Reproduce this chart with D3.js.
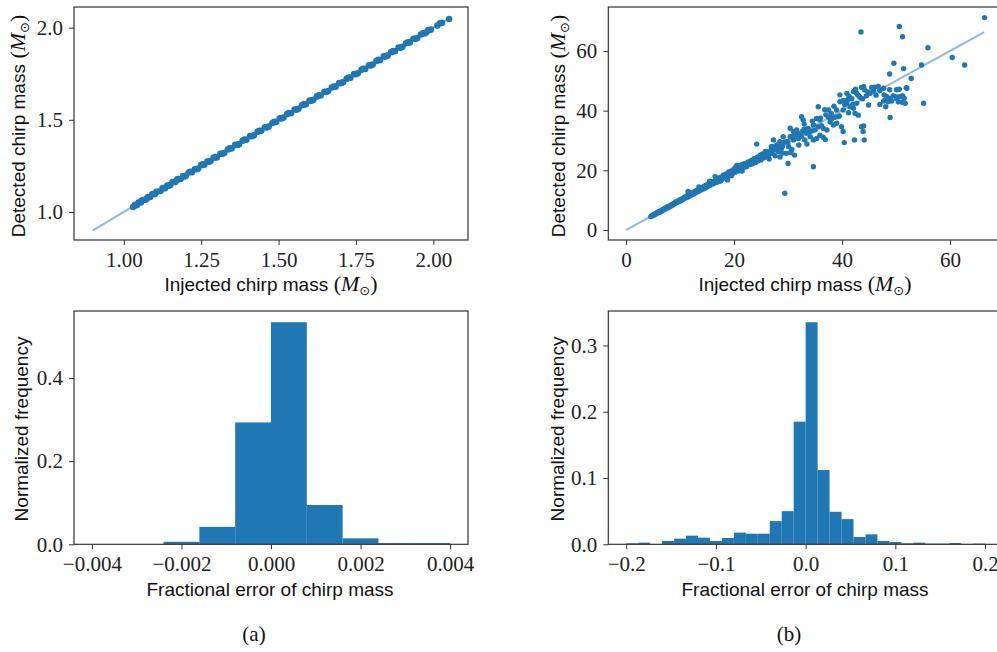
<!DOCTYPE html>
<html>
<head>
<meta charset="utf-8">
<script src="https://cdn.jsdelivr.net/npm/d3@7"></script>
<style>
  body { margin: 0; background: #fff; }
</style>
</head>
<body>
<div id="chart"></div>
<script>
// ---- data ----
// (a) top: injected vs detected chirp mass, binary neutron stars
var bnsPoints = [
  [1.030,1.027],[1.036,1.039],[1.042,1.038],[1.048,1.051],[1.055,1.052],[1.062,1.065],[1.070,1.066],[1.078,1.081],
  [1.085,1.081],[1.092,1.096],[1.100,1.096],[1.106,1.109],[1.118,1.114],[1.125,1.128],[1.133,1.129],[1.141,1.144],
  [1.150,1.146],[1.158,1.162],[1.166,1.162],[1.175,1.178],[1.183,1.179],[1.192,1.195],[1.200,1.196],[1.210,1.214],
  [1.220,1.216],[1.230,1.233],[1.240,1.236],[1.250,1.254],[1.260,1.256],[1.270,1.273],[1.280,1.276],[1.290,1.294],
  [1.300,1.296],[1.312,1.315],[1.324,1.320],[1.336,1.339],[1.348,1.344],[1.360,1.364],[1.372,1.368],[1.384,1.387],
  [1.396,1.392],[1.408,1.412],[1.420,1.416],[1.432,1.435],[1.444,1.440],[1.456,1.460],[1.468,1.464],[1.480,1.483],
  [1.492,1.488],[1.504,1.508],[1.516,1.512],[1.528,1.531],[1.540,1.536],[1.552,1.556],[1.564,1.560],[1.576,1.579],
  [1.588,1.584],[1.600,1.604],[1.612,1.608],[1.624,1.627],[1.636,1.632],[1.648,1.652],[1.660,1.656],[1.672,1.675],
  [1.684,1.680],[1.696,1.700],[1.708,1.704],[1.720,1.723],[1.732,1.728],[1.744,1.748],[1.756,1.752],[1.768,1.771],
  [1.780,1.776],[1.792,1.796],[1.804,1.800],[1.816,1.819],[1.828,1.824],[1.840,1.844],[1.852,1.848],[1.864,1.867],
  [1.876,1.872],[1.888,1.892],[1.900,1.896],[1.912,1.915],[1.924,1.920],[1.936,1.940],[1.948,1.944],[1.960,1.963],
  [1.972,1.968],[1.984,1.987],[1.992,1.989],[2.013,2.011],[2.022,2.024],[2.028,2.026],[2.051,2.047],
  [1.039,1.036],[1.058,1.060],[1.074,1.072],[1.096,1.099],[1.129,1.131],[1.146,1.143],[1.171,1.173],[1.196,1.193],
  [1.215,1.218],[1.235,1.232],[1.255,1.258],[1.275,1.272],[1.295,1.298],[1.318,1.316],[1.342,1.345],[1.366,1.363],
  [1.390,1.393],[1.414,1.411],[1.438,1.441],[1.462,1.459],[1.486,1.489],[1.510,1.507],[1.534,1.537],[1.558,1.555],
  [1.582,1.585],[1.606,1.603],[1.630,1.633],[1.654,1.651],[1.678,1.681],[1.702,1.699],[1.726,1.729],[1.750,1.747],
  [1.774,1.777],[1.798,1.795],[1.822,1.825],[1.846,1.843],[1.870,1.873],[1.894,1.891],[1.918,1.921],[1.942,1.939],
  [1.966,1.969],[1.978,1.975]
];
var bnsLine = [0.9, 2.05];

// (b) top: binary black holes
var bbhPoints = [
  [4.6,4.5],[4.8,4.9],[5.0,4.8],[5.2,5.3],[5.4,5.2],[5.6,5.7],[5.8,5.6],[6.0,6.1],[6.2,5.9],[6.4,6.5],
  [6.6,6.3],[6.8,6.9],[7.0,6.8],[7.2,7.3],[7.4,7.1],[7.6,7.7],[7.8,7.5],[8.0,8.1],[8.2,7.9],[8.4,8.5],
  [8.6,8.3],[8.8,8.9],[9.0,8.8],[9.2,9.4],[9.4,9.1],[9.6,9.7],[9.8,9.5],[10.0,10.2],[10.2,9.8],[10.4,10.5],
  [10.6,10.3],[10.8,11.0],[11.0,10.7],[11.2,11.4],[11.4,11.0],[11.5,12.9],[11.6,11.8],[11.8,11.4],[12.0,12.3],[12.2,11.8],
  [12.4,12.6],[12.6,12.1],[12.8,13.0],[13.0,12.6],[13.2,13.4],[13.4,12.9],[13.5,14.4],[13.6,13.8],[13.8,13.3],[14.0,14.2],
  [14.2,13.7],[14.4,14.6],[14.6,14.0],[14.8,15.0],[15.0,14.4],[15.3,15.5],[15.5,16.4],[15.6,15.0],[15.9,16.2],[16.2,15.5],
  [16.5,16.6],[16.5,17.9],[16.8,16.0],[17.0,17.4],[17.2,16.3],[17.5,17.6],[17.5,16.4],[17.8,17.0],[18.0,18.4],[18.2,17.5],
  [18.5,18.8],[18.8,18.0],[18.8,16.8],[19.0,19.5],[19.2,18.4],[19.5,19.8],[19.5,18.2],[19.8,19.0],[20.0,20.5],[20.2,19.4],
  [20.3,21.0],[20.5,20.9],[20.5,21.6],[20.6,20.2],[20.8,19.8],[21.0,21.5],[21.2,20.6],[21.5,22.0],[21.5,19.8],[21.8,21.0],
  [22.0,22.3],[22.0,21.6],[22.3,21.2],[22.6,22.8],[22.9,21.9],[23.0,22.6],[23.2,23.3],[23.4,22.2],[23.7,23.9],[24.0,22.6],
  [24.0,23.9],[24.2,28.8],[24.3,24.4],[24.5,23.2],[24.8,25.0],[25.0,23.5],[25.0,25.2],[25.1,24.6],[25.3,25.5],[25.6,24.2],
  [25.8,26.3],[26.0,24.8],[26.0,26.2],[26.2,25.8],[26.4,25.1],[26.5,23.8],[26.7,26.5],[26.9,27.9],[27.0,25.7],[27.0,27.3],
  [27.2,27.9],[27.3,30.2],[27.5,26.8],[27.6,24.9],[27.9,28.5],[28.0,27.5],[28.2,26.3],[28.3,28.8],[28.5,29.6],[28.5,24.5],
  [28.8,27.4],[29.0,25.8],[29.0,28.2],[29.1,31.3],[29.3,29.4],[29.4,12.3],[29.7,29.6],[29.7,25.7],[30.0,22.3],[30.0,29.5],
  [30.1,28.0],[30.4,31.3],[30.4,34.1],[30.5,26.0],[30.7,27.0],[31.0,30.2],[31.0,33.0],[31.0,31.6],[31.2,25.1],[31.5,32.0],
  [31.6,33.5],[31.9,30.7],[32.0,31.0],[32.0,28.5],[32.2,32.4],[32.5,38.0],[32.5,31.5],[32.7,33.1],[32.8,36.9],[33.0,33.8],
  [33.0,35.5],[33.1,30.2],[33.4,32.4],[33.5,28.8],[33.7,34.0],[34.0,33.0],[34.1,31.3],[34.4,33.2],[34.5,36.5],[34.7,21.2],
  [34.7,30.2],[34.7,35.2],[35.0,33.5],[35.3,30.7],[35.3,37.4],[35.6,41.3],[35.6,34.6],[35.9,31.8],[35.9,36.9],[36.0,37.5],
  [36.2,35.0],[36.5,31.1],[36.5,34.1],[36.8,40.3],[36.9,30.3],[37.0,38.6],[37.2,33.5],[37.5,40.2],[37.5,37.8],[37.8,36.2],
  [38.0,39.1],[38.1,37.4],[38.4,35.2],[38.5,41.5],[38.7,37.8],[39.0,35.8],[39.0,40.2],[39.3,38.0],[39.5,38.2],[39.6,43.0],
  [39.6,45.3],[39.9,34.6],[40.2,33.0],[40.2,40.2],[40.2,43.4],[40.4,29.3],[40.5,42.0],[40.9,42.5],[40.9,45.8],[41.0,43.6],
  [41.2,39.3],[41.3,44.8],[41.5,41.3],[41.8,44.0],[42.0,42.2],[42.1,40.8],[42.1,46.4],[42.3,30.2],[42.4,39.1],[42.5,47.2],
  [42.7,42.5],[42.7,45.8],[43.0,38.5],[43.0,45.2],[43.3,44.5],[43.5,66.4],[43.6,47.8],[43.6,34.6],[43.8,44.0],[43.9,33.0],
  [44.0,48.0],[44.0,34.9],[44.1,30.2],[44.2,46.9],[44.5,45.0],[44.8,46.3],[44.9,41.9],[45.2,45.8],[45.5,47.8],[45.8,46.7],
  [46.0,47.9],[46.3,45.2],[46.7,48.1],[47.0,46.7],[47.0,42.1],[47.7,43.2],[47.7,47.5],[47.8,45.3],[48.0,43.6],[48.1,41.3],
  [48.3,44.7],[48.5,43.0],[48.8,47.0],[48.8,52.3],[48.9,37.7],[48.9,44.1],[49.2,43.2],[49.5,45.0],[49.6,55.9],[50.1,44.6],
  [50.1,47.0],[50.1,44.1],[50.4,43.0],[50.6,68.2],[50.6,47.2],[50.7,44.7],[51.1,42.8],[51.2,45.0],[51.2,64.8],[51.4,54.1],
  [51.5,44.2],[51.7,42.5],[51.9,47.7],[52.0,47.5],[52.8,50.8],[54.7,55.3],[55.1,42.5],[55.9,61.1],[60.4,57.8],[62.7,55.3],
  [66.4,71.2]
];
var bbhLine = [0, 66.3];

// (a) bottom: fractional error histogram
var bnsErrEdges = [-0.004, -0.0032, -0.0024, -0.0016, -0.0008, 0, 0.0008, 0.0016, 0.0024, 0.0032, 0.004];
var bnsErrFreq = [0, 0, 0.006, 0.042, 0.293, 0.534, 0.0945, 0.0144, 0.003, 0.003];

// (b) bottom: fractional error histogram, 30 equal bins
var bbhErrRange = [-0.2, 0.2];
var bbhErrFreq = [0.0015, 0.0025, 0, 0.005, 0.0085, 0.013, 0.010, 0.005, 0.0095, 0.0176,
                  0.016, 0.016, 0.035, 0.050, 0.185, 0.335, 0.112, 0.049, 0.038, 0.011,
                  0.015, 0.005, 0.0035, 0.0015, 0.0025, 0.001, 0.001, 0.002, 0.0005, 0.001];

// tick labels
var bnsMassTicksX = [1.00, 1.25, 1.50, 1.75, 2.00];
var bnsMassTicksY = [1.0, 1.5, 2.0];
var bbhMassTicks = [0, 20, 40, 60];
var bnsErrTicksX = [-0.004, -0.002, 0, 0.002, 0.004];
var bnsErrTicksY = [0.0, 0.2, 0.4];
var bbhErrTicksX = [-0.2, -0.1, 0, 0.1, 0.2];
var bbhErrTicksY = [0.0, 0.1, 0.2, 0.3];

var blue = "#1f77b4",
    lineBlue = "#8fbbd9",
    serif = "'Liberation Serif', 'DejaVu Serif', serif",
    sans = "'Liberation Sans', Arial, sans-serif";

var svg = d3.select("#chart")
    .append("svg")
    .attr("width", 997)
    .attr("height", 652)
    .style("background", "#fff");

// build one subplot: scales, axes and frame
function panel(o) {
    var x = d3.scaleLinear().domain(o.xd).range([o.left, o.right]);
    var y = d3.scaleLinear().domain(o.yd).range([o.bottom, o.top]);
    var g = svg.append("g");
    var marks = g.append("g");

    var ax = g.append("g")
        .attr("transform", "translate(0," + o.bottom + ")")
        .call(d3.axisBottom(x).tickValues(o.xt).tickFormat(d3.format(o.xf)).tickSize(5).tickPadding(7));
    var ay = g.append("g")
        .attr("transform", "translate(" + o.left + ",0)")
        .call(d3.axisLeft(y).tickValues(o.yt).tickFormat(d3.format(o.yf)).tickSize(5).tickPadding(6));
    [ax, ay].forEach(function (a) {
        a.select(".domain").remove();
        a.selectAll("line").attr("stroke", "#333").attr("stroke-width", 1);
        a.selectAll("text").attr("font-family", serif).attr("font-size", "21px").attr("fill", "#222");
    });

    g.append("rect")
        .attr("x", o.left).attr("y", o.top)
        .attr("width", o.right - o.left).attr("height", o.bottom - o.top)
        .attr("fill", "none").attr("stroke", "#333").attr("stroke-width", 1.2);

    return { x: x, y: y, marks: marks };
}

// axis label, optionally followed by "(M_sun)"
function label(px, py, rotate, txt, withMass) {
    var t = svg.append("text")
        .attr("text-anchor", "middle")
        .attr("font-family", sans)
        .attr("font-size", "19px")
        .attr("fill", "#111")
        .attr("transform", "translate(" + px + "," + py + ")" + (rotate ? " rotate(-90)" : ""));
    t.append("tspan").text(txt);
    if (withMass) {
        t.append("tspan").attr("font-family", serif).attr("font-size", "22px").text(" (");
        t.append("tspan").attr("font-family", serif).attr("font-style", "italic").attr("font-size", "22px").text("M");
        t.append("tspan").attr("font-family", "'DejaVu Sans', sans-serif").attr("font-size", "13px").attr("dy", 4).text("\u2299");
        t.append("tspan").attr("font-family", serif).attr("font-size", "22px").attr("dy", -4).text(")");
    }
}

// ---- (a) top ----
var pA = panel({ left: 74, right: 468, top: 7, bottom: 240,
    xd: [0.839, 2.112], yd: [0.848, 2.112],
    xt: bnsMassTicksX, xf: ".2f", yt: bnsMassTicksY, yf: ".1f" });
pA.marks.append("line")
    .attr("x1", pA.x(bnsLine[0])).attr("y1", pA.y(bnsLine[0]))
    .attr("x2", pA.x(bnsLine[1])).attr("y2", pA.y(bnsLine[1]))
    .attr("stroke", lineBlue).attr("stroke-width", 2);
pA.marks.selectAll("circle").data(bnsPoints).enter().append("circle")
    .attr("cx", function (d) { return pA.x(d[0]); })
    .attr("cy", function (d) { return pA.y(d[1]); })
    .attr("r", 3.3)
    .attr("fill", blue);

// ---- (b) top ----
var pB = panel({ left: 608.3, right: 1003, top: 7, bottom: 240,
    xd: [-3.28, 69.8], yd: [-3.35, 74.75],
    xt: bbhMassTicks, xf: "d", yt: bbhMassTicks, yf: "d" });
pB.marks.append("line")
    .attr("x1", pB.x(bbhLine[0])).attr("y1", pB.y(bbhLine[0]))
    .attr("x2", pB.x(bbhLine[1])).attr("y2", pB.y(bbhLine[1]))
    .attr("stroke", lineBlue).attr("stroke-width", 2);
pB.marks.selectAll("circle").data(bbhPoints).enter().append("circle")
    .attr("cx", function (d) { return pB.x(d[0]); })
    .attr("cy", function (d) { return pB.y(d[1]); })
    .attr("r", 2.7)
    .attr("fill", blue);

// ---- (a) bottom ----
var pC = panel({ left: 74, right: 468, top: 311, bottom: 544.3,
    xd: [-0.0044, 0.0044], yd: [0, 0.561],
    xt: bnsErrTicksX, xf: ".3f", yt: bnsErrTicksY, yf: ".1f" });
pC.marks.selectAll("rect").data(bnsErrFreq).enter().append("rect")
    .attr("x", function (d, i) { return pC.x(bnsErrEdges[i]); })
    .attr("width", function (d, i) { return pC.x(bnsErrEdges[i + 1]) - pC.x(bnsErrEdges[i]); })
    .attr("y", function (d) { return pC.y(d); })
    .attr("height", function (d) { return pC.y(0) - pC.y(d); })
    .attr("fill", blue);

// ---- (b) bottom ----
var pD = panel({ left: 608.3, right: 1003, top: 311, bottom: 544.3,
    xd: [-0.22, 0.22], yd: [0, 0.352],
    xt: bbhErrTicksX, xf: ".1f", yt: bbhErrTicksY, yf: ".1f" });
var binW = (bbhErrRange[1] - bbhErrRange[0]) / bbhErrFreq.length;
pD.marks.selectAll("rect").data(bbhErrFreq).enter().append("rect")
    .attr("x", function (d, i) { return pD.x(bbhErrRange[0] + i * binW); })
    .attr("width", function (d, i) { return pD.x(bbhErrRange[0] + (i + 1) * binW) - pD.x(bbhErrRange[0] + i * binW); })
    .attr("y", function (d) { return pD.y(d); })
    .attr("height", function (d) { return pD.y(0) - pD.y(d); })
    .attr("fill", blue);

// ---- axis labels ----
label(271, 291, false, "Injected chirp mass", true);
label(25, 126, true, "Detected chirp mass", true);
label(805, 291, false, "Injected chirp mass", true);
label(565, 126, true, "Detected chirp mass", true);
label(270, 596, false, "Fractional error of chirp mass", false);
label(28, 429, true, "Normalized frequency", false);
label(805, 596, false, "Fractional error of chirp mass", false);
label(564, 429, true, "Normalized frequency", false);

// ---- sub-captions ----
[["(a)", 254], ["(b)", 789]].forEach(function (c) {
    svg.append("text")
        .attr("x", c[1]).attr("y", 641)
        .attr("text-anchor", "middle")
        .attr("font-family", serif)
        .attr("font-size", "21px")
        .attr("fill", "#111")
        .text(c[0]);
});
</script>
</body>
</html>
